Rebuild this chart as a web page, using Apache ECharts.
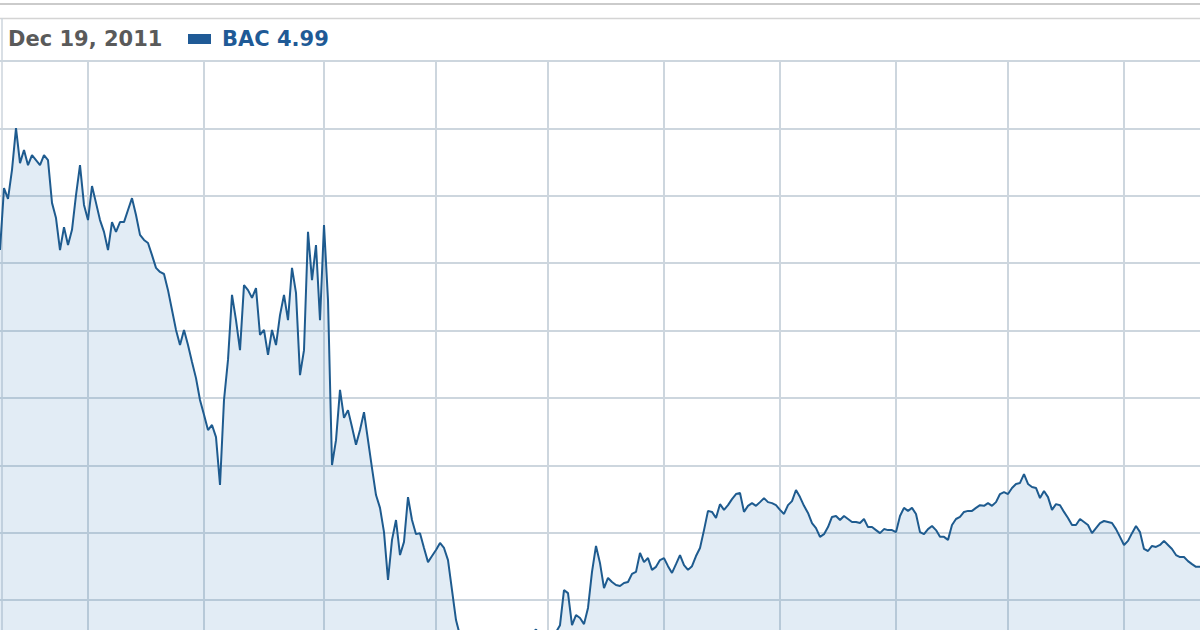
<!DOCTYPE html>
<html>
<head>
<meta charset="utf-8">
<style>
html,body{margin:0;padding:0;background:#fff;}
#chart{width:1200px;height:630px;}
</style>
<script src="https://cdn.jsdelivr.net/npm/echarts@6/dist/echarts.min.js"></script>
</head>
<body>
<div id="chart"></div>
<script>
// ---- data ----
const ticker = 'BAC';
const hoverDate = 'Dec 19, 2011';
// closing prices, one per sample
const prices = [
14.39,16.23,15.91,16.77,18.01,16.97,17.36,16.91,17.21,17.06,
16.91,17.21,17.06,15.79,15.34,14.39,15.07,14.54,14.99,16.02,
16.91,15.73,15.28,16.29,15.79,15.28,14.93,14.39,15.22,14.93,
15.22,15.22,15.58,15.93,15.43,14.84,14.69,14.60,14.24,13.86,
13.74,13.68,13.20,12.61,12.02,11.57,12.02,11.57,11.07,10.59,
9.94,9.50,9.05,9.20,8.84,7.42,9.94,11.13,13.06,12.31,
11.42,13.35,13.20,12.97,13.26,11.87,12.02,11.28,12.02,11.57,
12.46,13.06,12.31,13.86,13.12,10.68,11.42,14.93,13.50,14.54,
12.31,15.13,12.91,8.01,8.75,10.24,9.41,9.64,9.14,8.61,
9.05,9.58,8.75,7.92,7.12,6.74,6.02,4.60,5.79,6.38,
5.34,5.73,7.06,6.38,5.96,5.99,5.55,5.13,5.31,5.49,
5.70,5.55,5.19,4.30,3.41,
2.95,2.80,2.70,2.62,2.55,2.45,2.58,2.70,2.52,2.38,
2.27,2.40,2.55,2.68,2.80,2.90,2.84,2.95,3.02,3.13,
2.96,2.86,2.92,2.98,3.05,
3.26,4.30,4.21,3.26,3.56,3.47,3.29,3.77,4.84,5.61,
5.10,4.36,4.66,4.54,4.45,4.42,4.51,4.54,4.78,4.84,
5.40,5.13,5.25,4.90,4.99,5.19,5.25,5.01,4.81,5.07,
5.34,5.04,4.90,5.01,5.31,5.55,6.08,6.65,6.62,6.44,
6.85,6.68,6.82,7.00,7.15,7.18,6.62,6.80,6.88,6.80,
6.91,7.03,6.91,6.88,6.82,6.68,6.56,6.82,6.94,7.27,
7.06,6.80,6.59,6.29,6.14,5.88,5.96,6.17,6.47,6.50,
6.38,6.50,6.41,6.32,6.32,6.29,6.41,6.17,6.17,6.08,
5.99,6.11,6.08,6.08,6.02,6.50,6.74,6.65,6.74,6.56,
6.02,5.96,6.11,6.20,6.08,5.88,5.88,5.79,6.23,6.41,
6.47,6.62,6.65,6.65,6.74,6.82,6.80,6.88,6.80,6.91,
7.15,7.21,7.15,7.33,7.45,7.48,7.74,7.45,7.36,7.33,
7.03,7.24,7.06,6.68,6.85,6.82,6.62,6.44,6.23,6.23,
6.41,6.32,6.23,5.99,6.14,6.29,6.35,6.32,6.29,6.11,
5.88,5.64,5.76,5.99,6.20,6.02,5.52,5.46,5.61,5.58,
5.64,5.76,5.64,5.52,5.34,5.28,5.28,5.16,5.07,4.99,
4.99
];
// sample indexes where a new period (vertical grid line) begins
const periodStartIdx = [22, 51, 81, 109, 137, 166, 195, 224, 252, 281];
// value axis
const yMin = 0, yMax = 20, yStep = 2;

// ---- chart ----
const days = prices.map((_, i) => String(i));
const lastValue = prices[prices.length - 1];
const chart = echarts.init(document.getElementById('chart'), null, {renderer: 'svg'});
const gridColor = '#cdd6de';
chart.setOption({
  backgroundColor: '#ffffff',
  animation: false,
  grid: {left: 0, right: 0, top: 61, height: 674, containLabel: false, outerBoundsMode: 'none'},
  xAxis: {
    type: 'category',
    data: days,
    boundaryGap: false,
    axisLine: {show: false},
    axisTick: {show: false},
    axisLabel: {show: false},
    splitLine: {
      show: true,
      interval: (idx) => periodStartIdx.indexOf(idx) >= 0,
      lineStyle: {color: gridColor, width: 2}
    }
  },
  yAxis: {
    type: 'value',
    min: yMin, max: yMax, interval: yStep,
    axisLine: {show: false},
    axisTick: {show: false},
    axisLabel: {show: false},
    splitLine: {show: true, lineStyle: {color: gridColor, width: 2}}
  },
  series: [{
    name: ticker,
    type: 'line',
    data: prices,
    symbol: 'none',
    smooth: false,
    lineStyle: {color: '#1e5b8f', width: 2},
    areaStyle: {color: 'rgba(55,125,185,0.21)'}
  }],
  graphic: [
    {type: 'line', shape: {x1: 0, y1: 4, x2: 1200, y2: 4}, style: {stroke: '#cbcbcb', lineWidth: 2}},
    {type: 'line', shape: {x1: 0, y1: 18.5, x2: 1200, y2: 18.5}, style: {stroke: '#d4d4d4', lineWidth: 1.5}},
    {type: 'line', shape: {x1: 2, y1: 18, x2: 2, y2: 630}, style: {stroke: '#cdd5dc', lineWidth: 1.5}},
    {type: 'text', x: 8, y: 39, style: {text: hoverDate, fill: '#5a5a5a', font: 'bold 21px "DejaVu Sans"', textVerticalAlign: 'middle'}},
    {type: 'rect', shape: {x: 188, y: 34, width: 23, height: 10}, style: {fill: '#1f5a96'}},
    {type: 'text', x: 222, y: 39, style: {text: ticker + ' ' + lastValue.toFixed(2), fill: '#1f5a96', font: 'bold 21px "DejaVu Sans"', textVerticalAlign: 'middle'}}
  ]
});
</script>
</body>
</html>
